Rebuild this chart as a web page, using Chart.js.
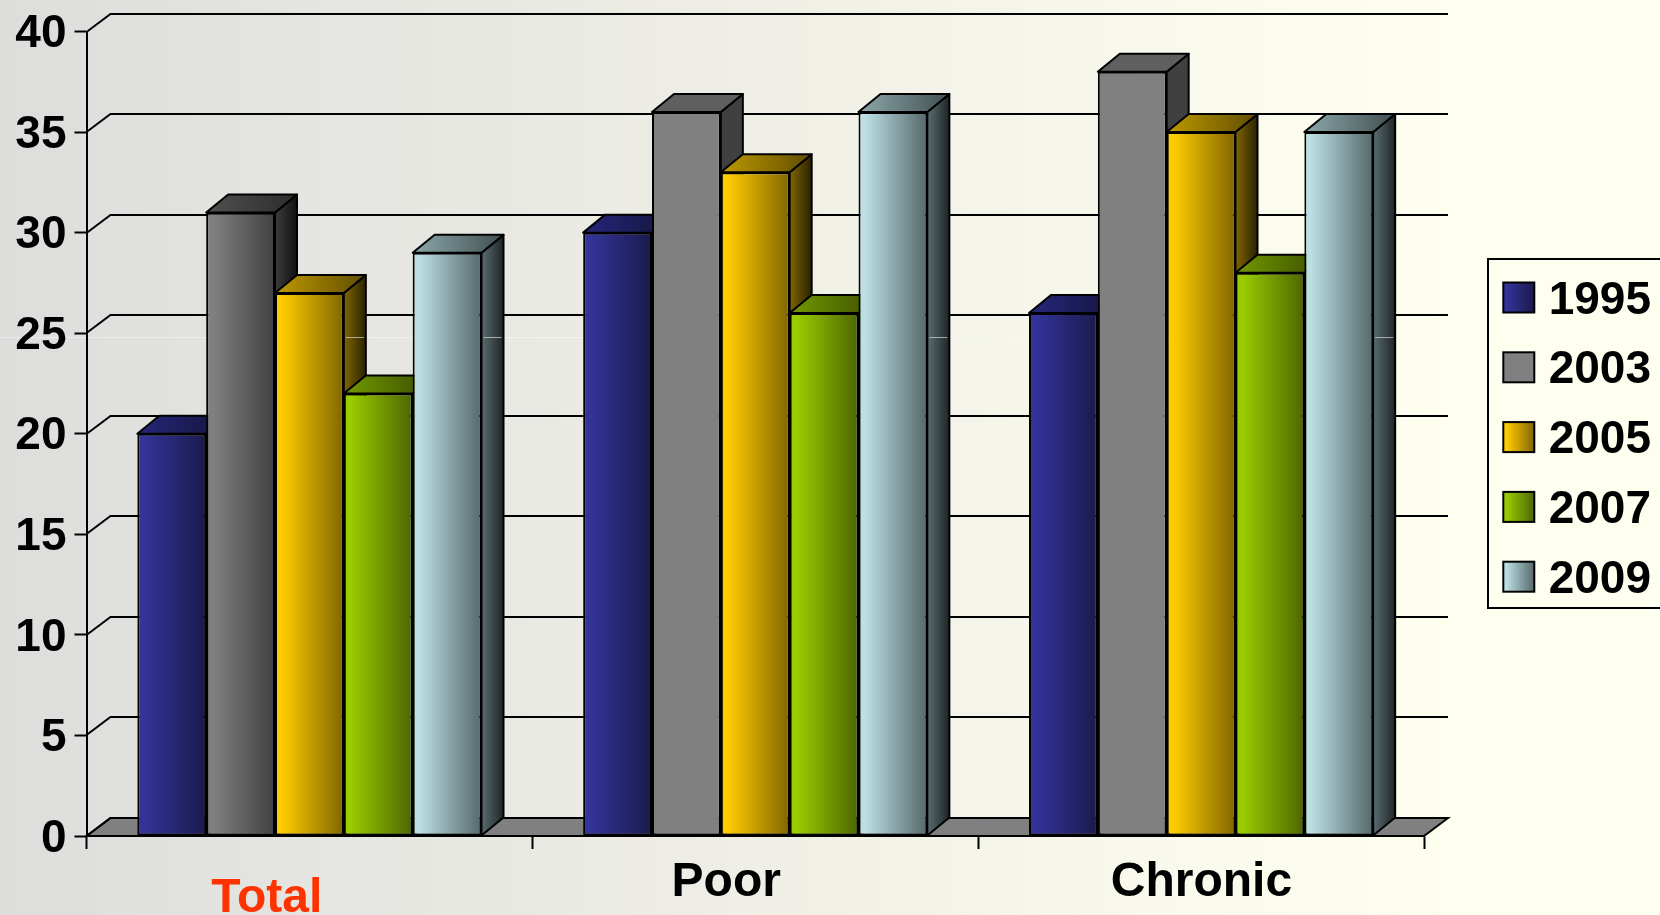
<!DOCTYPE html>
<html>
<head>
<meta charset="utf-8">
<title>Rates by group, 1995 to 2009</title>
<script src="https://cdn.jsdelivr.net/npm/chart.js@4"></script>
<style>
  html, body { margin: 0; padding: 0; background: #fffff0; overflow: hidden; }
  canvas { display: block; }
</style>
</head>
<body>
<canvas id="chart" width="1660" height="915"></canvas>
<script>
// Chart values
const categories = ['Total', 'Poor', 'Chronic'];
const years = ['1995', '2003', '2005', '2007', '2009'];
const values1995 = [20, 30, 26];
const values2003 = [31, 36, 38];
const values2005 = [27, 33, 35];
const values2007 = [22, 26, 28];
const values2009 = [29, 36, 35];
const yTicksMax = 40;
const yTicksStep = 5;

// Face colours for each series: left and right stop of the gradient
const frontColours = [
  ['#333399', '#1a1a4d'], ['#808080', '#404040'], ['#ffcc00', '#806600'],
  ['#99cc00', '#4d6600'], ['#bbdfe3', '#56686b']
];
const topColours = [
  ['#26267a', '#14143d'], ['#505050', '#2c2c2c'], ['#bf9900', '#604d00'],
  ['#739900', '#3a4d00'], ['#8ca8aa', '#414f51']
];
const sideColours = [
  ['#1a1a4d', '#0a0a20'], ['#3c3c3c', '#101010'], ['#806600', '#2a2200'],
  ['#4d6600', '#1a2200'], ['#5a6d70', '#1e2525']
];
// The 2003 series is plain grey outside the first group
const flatFront = '#808080', flatTop = '#5f5f5f', flatSide = '#404040';

const FONT = '"Liberation Sans", Arial, sans-serif';
const DEPTH_X = 22, DEPTH_Y = 18, WALL_X = 24;
const GROUP_SHARE = 0.772;
const LEGEND_PAD = 23.8, LEGEND_FONT = 46, SWATCH_W = 31, SWATCH_H = 30;
const SEAM_Y = 337;

function isFlat(series, index) { return series === 1 && index !== 0; }

// Horizontal ramp; hold keeps the first colour over the leading part of the face
function hGradient(ctx, left, right, pair, hold = 0) {
  const g = ctx.createLinearGradient(left, 0, right, 0);
  g.addColorStop(0, pair[0]);
  if (hold) g.addColorStop(hold, pair[0]);
  g.addColorStop(1, pair[1]);
  return g;
}

function frontFill(context) {
  const series = context.datasetIndex;
  if (context.type !== 'data') return frontColours[series][0];
  const i = context.dataIndex;
  if (isFlat(series, i)) return flatFront;
  const chart = context.chart, x = chart.scales.x;
  const band = (x.getPixelForValue(1) - x.getPixelForValue(0)) * GROUP_SHARE;
  const w = band / years.length;
  const left = x.getPixelForValue(i) - band / 2 + w * series;
  // Scales have no pixel range until the first layout has run
  if (!Number.isFinite(left) || !Number.isFinite(w)) return frontColours[series][0];
  return hGradient(chart.ctx, left, left + w, frontColours[series], 0.1);
}

// Right-hand and top faces of one bar
function drawFaces(ctx, bar, s, i) {
  const l = bar.x - bar.width / 2, r = bar.x + bar.width / 2;
  const t = bar.y, b = bar.base;
  const flat = isFlat(s, i);
  ctx.fillStyle = flat ? flatSide : hGradient(ctx, r, r + DEPTH_X, sideColours[s]);
  ctx.beginPath();
  ctx.moveTo(r, t);
  ctx.lineTo(r + DEPTH_X, t - DEPTH_Y);
  ctx.lineTo(r + DEPTH_X, b - DEPTH_Y);
  ctx.lineTo(r, b);
  ctx.closePath();
  ctx.fill();
  ctx.stroke();
  // thin light seam across the side face
  if (t - DEPTH_Y < SEAM_Y) {
    ctx.fillStyle = 'rgba(205,205,205,0.75)';
    ctx.fillRect(r + 2, SEAM_Y, DEPTH_X - 4, 1);
  }
  ctx.fillStyle = flat ? flatTop : hGradient(ctx, l, r + DEPTH_X, topColours[s]);
  ctx.beginPath();
  ctx.moveTo(l, t);
  ctx.lineTo(l + DEPTH_X, t - DEPTH_Y);
  ctx.lineTo(r + DEPTH_X, t - DEPTH_Y);
  ctx.lineTo(r, t);
  ctx.closePath();
  ctx.fill();
  ctx.stroke();
}

// Backdrop, legend frame, receding gridlines, floor and the bars' extruded faces
const depthPlugin = {
  id: 'depth',
  beforeDraw(chart) {
    const { ctx, width, height } = chart;
    const g = ctx.createLinearGradient(0, 0, width, 0);
    g.addColorStop(0, '#dddddc');
    g.addColorStop(0.87, '#fffff0');
    g.addColorStop(1, '#fffff0');
    ctx.save();
    ctx.fillStyle = g;
    ctx.fillRect(0, 0, width, height);
    ctx.fillStyle = 'rgba(255,255,255,0.4)';
    ctx.fillRect(0, SEAM_Y, width, 1);
    ctx.strokeStyle = '#000';
    ctx.lineWidth = 2;
    ctx.strokeRect(1488, 259, 200, 349);
    // legend swatches sit a little above the centre line of their labels
    const l = chart.legend;
    (l.legendItems || []).forEach((item, s) => {
      const sx = l.left + LEGEND_PAD;
      const sy = l.top + LEGEND_PAD + s * (LEGEND_FONT + LEGEND_PAD) + (LEGEND_FONT - SWATCH_H) / 2 - 3.5;
      ctx.fillStyle = s === 1 ? flatFront : hGradient(ctx, sx, sx + SWATCH_W, frontColours[s], 0.1);
      ctx.fillRect(sx, sy, SWATCH_W, SWATCH_H);
      ctx.strokeRect(sx, sy, SWATCH_W, SWATCH_H);
    });
    ctx.restore();
  },
  afterLayout(chart) {
    // Legend sits in its own frame to the right of the plot
    const l = chart.legend;
    l.left = 1479.5; l.right = 1651; l.top = 254.2; l.bottom = 915;
  },
  beforeDatasetsDraw(chart) {
    const { ctx, chartArea: a, scales: { y } } = chart;
    ctx.save();
    ctx.strokeStyle = '#000';
    ctx.lineWidth = 2;
    ctx.fillStyle = '#808080';
    ctx.beginPath();
    ctx.moveTo(a.left, a.bottom);
    ctx.lineTo(a.left + WALL_X, a.bottom - DEPTH_Y);
    ctx.lineTo(a.right + WALL_X, a.bottom - DEPTH_Y);
    ctx.lineTo(a.right, a.bottom);
    ctx.closePath();
    ctx.fill();
    ctx.stroke();
    y.ticks.forEach(t => {
      const py = Math.round(y.getPixelForValue(t.value));
      ctx.beginPath();
      ctx.moveTo(a.left, py);
      ctx.lineTo(a.left + WALL_X, py - DEPTH_Y);
      ctx.lineTo(a.right + WALL_X, py - DEPTH_Y);
      ctx.stroke();
    });
    // Faces go left to right within each group so nearer bars overlap; the
    // library then paints the front faces on top of all of them.
    ctx.lineJoin = 'round';
    categories.forEach((_, i) => {
      years.forEach((_, s) => drawFaces(ctx, chart.getDatasetMeta(s).data[i], s, i));
    });
    ctx.restore();
  },
  afterDraw(chart) {
    // Category captions, each placed under its group
    const { ctx, scales: { x } } = chart;
    const shifts = [[-42.6, 63], [-29, 47], [0.4, 47]];
    const colours = ['#ff3300', '#000000', '#000000'];
    ctx.save();
    ctx.font = 'bold 48px ' + FONT;
    ctx.textAlign = 'center';
    ctx.textBaseline = 'middle';
    categories.forEach((name, i) => {
      ctx.fillStyle = colours[i];
      ctx.fillText(name, x.getPixelForValue(i) + shifts[i][0], x.top + shifts[i][1]);
    });
    ctx.restore();
  }
};

const allValues = [values1995, values2003, values2005, values2007, values2009];

new Chart(document.getElementById('chart'), {
  type: 'bar',
  plugins: [depthPlugin],
  data: {
    labels: categories,
    datasets: years.map((year, s) => ({
      label: year,
      data: allValues[s],
      backgroundColor: frontFill,
      borderColor: '#000',
      borderWidth: 2,
      borderSkipped: false,
      clip: false
    }))
  },
  options: {
    responsive: false,
    animation: false,
    layout: { padding: { top: 31.5, right: 236, left: 0, bottom: 0 } },
    datasets: { bar: { categoryPercentage: GROUP_SHARE, barPercentage: 1 } },
    plugins: {
      tooltip: { enabled: false },
      title: { display: false },
      legend: {
        position: 'chartArea',
        align: 'start',
        labels: {
          boxWidth: SWATCH_W,
          boxHeight: SWATCH_H,
          padding: LEGEND_PAD,
          color: '#000',
          textAlign: 'right',
          font: { family: FONT, size: LEGEND_FONT, weight: 'bold' },
          generateLabels(chart) {
            const base = Chart.defaults.plugins.legend.labels.generateLabels(chart);
            return base.map(item => Object.assign(item, {
              fillStyle: 'rgba(0,0,0,0)',
              strokeStyle: 'rgba(0,0,0,0)',
              lineWidth: 0
            }));
          }
        }
      }
    },
    scales: {
      x: {
        type: 'category',
        offset: true,
        afterFit(scale) {
          scale.height = 79;
          scale.paddingLeft = scale.paddingRight = 0;
        },
        border: { display: true, color: '#000', width: 2 },
        grid: { offset: true, drawOnChartArea: false, drawTicks: true, tickLength: 13, tickColor: '#000', tickWidth: 2 },
        ticks: { display: false, autoSkip: false }
      },
      y: {
        min: 0,
        max: yTicksMax,
        afterFit(scale) {
          scale.width = 86.5;
          scale.paddingTop = scale.paddingBottom = 0;
        },
        border: { display: true, color: '#000', width: 2 },
        grid: { drawOnChartArea: false, drawTicks: true, tickLength: 12, tickColor: '#000', tickWidth: 2 },
        ticks: {
          stepSize: yTicksStep,
          padding: 8,
          labelOffset: 3,
          color: '#000',
          font: { family: FONT, size: 46, weight: 'bold' }
        }
      }
    }
  }
});
</script>
</body>
</html>
